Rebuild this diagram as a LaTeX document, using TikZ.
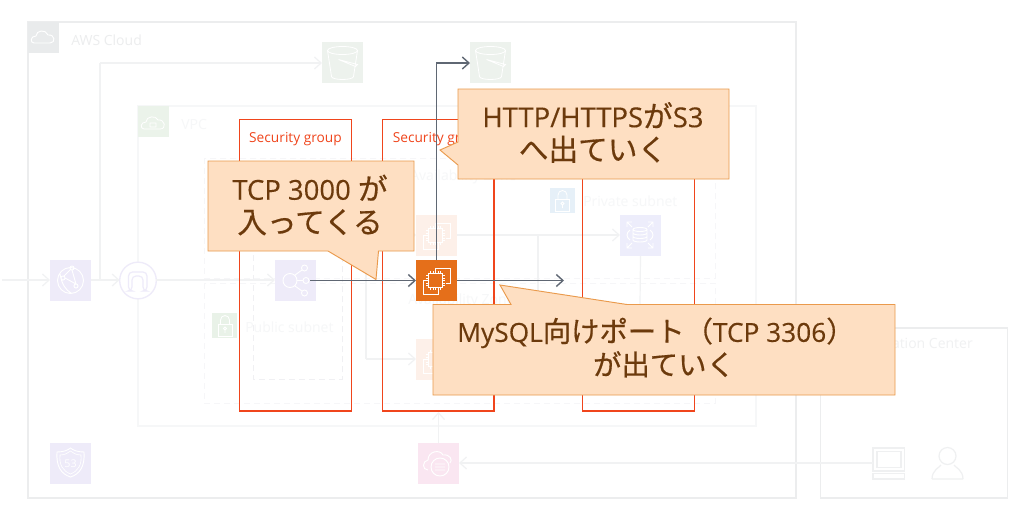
\documentclass[tikz,border=0pt]{standalone}
\usepackage{fontspec}
\setmainfont{Open Sans}
\newfontfamily\cjk[Scale=1.08,FakeBold=0.5]{Noto Sans CJK JP}
\newfontfamily\latinbold[FakeBold=0.25]{Open Sans}
\usetikzlibrary{arrows.meta}
\definecolor{sgred}{HTML}{F0451C}
\definecolor{arrowgray}{HTML}{5F6773}
\definecolor{faintline}{HTML}{F1F2F3}
\definecolor{cloudline}{HTML}{ECEDEE}
\definecolor{cloudcorner}{HTML}{E9EBEC}
\definecolor{vpcline}{HTML}{F6F7F8}
\definecolor{dashline}{HTML}{F6F6F8}
\definecolor{subnetdash}{HTML}{F0F0F3}
\definecolor{fainttext}{HTML}{F0F1F2}
\definecolor{paletext}{HTML}{F6F7F8}
\definecolor{calloutfill}{HTML}{FEDFC2}
\definecolor{calloutline}{HTML}{EA9A4C}
\definecolor{callouttext}{HTML}{6C3A0C}
\definecolor{greenbox}{HTML}{EDF2ED}
\definecolor{vpcgreen}{HTML}{EBF3EA}
\definecolor{pubgreen}{HTML}{E9F2E8}
\definecolor{privblue}{HTML}{E6F0F8}
\definecolor{purplebox}{HTML}{EEEBF9}
\definecolor{orangefaint}{HTML}{FDF0E9}
\definecolor{pinkbox}{HTML}{FAE6F1}
\definecolor{ec2orange}{HTML}{E56F1A}
\definecolor{dbbox}{HTML}{EDEDFB}
\definecolor{onprem}{HTML}{EFF0F1}
\tikzset{
 x=0.75pt,y=-0.75pt,
 iconbox/.style={draw=none,minimum size=30.75pt,inner sep=0pt,outer sep=0pt},
 tinybox/.style={draw=none,minimum size=19pt,inner sep=0pt,outer sep=0pt},
 framebox/.style={inner sep=0pt,outer sep=0pt,anchor=north west},
 sgbox/.style={framebox,draw=sgred,line width=1pt},
 sgtext/.style={text=sgred,font=\fontsize{10.3}{12}\selectfont,inner sep=0pt},
 groupdash/.style={draw=dashline,line width=0.75pt,dash pattern=on 4.5pt off 3pt},
 subnetdashed/.style={draw=subnetdash,line width=0.75pt,dash pattern=on 4.5pt off 3pt},
 fainttxt/.style={text=fainttext,font=\fontsize{10.5}{12}\selectfont,inner sep=0pt,anchor=west},
 faintconn/.style={draw=faintline,line width=0.9pt,-{Straight Barb[length=5pt,width=9pt]}},
 faintseg/.style={draw=faintline,line width=0.9pt},
 hotconn/.style={draw=arrowgray,line width=1.05pt,-{Straight Barb[length=5pt,width=9pt]}},
 calloutshape/.style={fill=calloutfill,draw=calloutline,line width=0.7pt,line join=miter},
 callouttxt/.style={text=callouttext,font=\fontsize{20.6}{25}\selectfont\latinbold,align=center,inner sep=0pt},
 glyph/.style={draw=white,line width=0.6pt,fill=none},
 bucketglyph/.pic={
  \draw[glyph] (0,-12) ellipse[x radius=15,y radius=4];
  \draw[glyph] (-15,-12) -- (-11,14) arc[start angle=180,end angle=0,x radius=11,y radius=3] -- (15,-12);
  \draw[glyph] (-4,-3) -- (15,2) -- (13,4) -- (-4,-3);
 },
 chipglyph/.pic={
  \draw[glyph,line width=0.75pt] (-1.5,-9.5) -- (-1.5,-12.5) -- (13.5,-12.5) -- (13.5,2.5) -- (9.5,2.5);
  \draw[glyph,line width=0.75pt] (-9.5,-0.5) -- (-13.5,-0.5) -- (-13.5,13.5) -- (1.5,13.5) -- (1.5,9.5);
  \draw[glyph,line width=0.9pt,fill=none] (-8,-7) rectangle (6,7);
  \foreach \t in {-5,-2.5,0,2.5,5}{
   \draw[glyph,line width=0.45pt] (\t-1,-9.5) -- (\t-1,-7) (\t-1,7) -- (\t-1,9.5) (-10.5,\t) -- (-8,\t) (6,\t) -- (8.5,\t);
  }
 },
 lockglyph/.pic={
  \draw[glyph] (-7,-2) rectangle (7,10);
  \draw[glyph] (-4.5,-2) -- (-4.5,-6) arc[start angle=180,end angle=360,radius=4.5] -- (4.5,-2);
  \draw[glyph] (0,2.5) circle[radius=1.5] (0,4) -- (0,7);
 },
}
\begin{document}
\begin{tikzpicture}
\useasboundingbox[fill=white] (0,0) rectangle (1021,512);

% groups
\node[framebox,draw=cloudline,line width=1.5pt,minimum width=576pt,minimum height=357pt] (cloud) at (28,22) {};
\fill[cloudcorner] (28,22) rectangle (59,53);
\draw[white,line width=0.7pt] (34,43) .. controls (30,43) and (30,36) .. (36,36) .. controls (36,30) and (46,29) .. (48,35) .. controls (55,34) and (56,43) .. (50,43) -- cycle;
\node[fainttxt,text=cloudline] (cloudtitle) at (71,40) {AWS Cloud};

\node[framebox,draw=vpcline,line width=0.9pt,minimum width=463.5pt,minimum height=240pt] (vpc) at (138,106) {};
\node[iconbox,minimum size=23.5pt,fill=vpcgreen,anchor=north west] (vpcicon) at (138,106) {};
\draw[white,line width=0.6pt] (144,129) .. controls (140,129) and (140,122) .. (146,122) .. controls (146,116) and (156,115) .. (158,120) .. controls (165,119) and (167,129) .. (160,129) -- cycle (150,123) rectangle (156,127);
\node[fainttxt,text=vpcline] (vpctitle) at (181,124) {VPC};

\node[framebox,draw=cloudline,line width=0.9pt,minimum width=140pt,minimum height=127.5pt] (center) at (820.5,328) {};
\node[fainttxt,anchor=east,text=fainttext] (centertitle) at (973,345) {Operation Center};

% availability zones and subnets
\draw[groupdash] (204,158) rectangle (715,278);
\draw[groupdash] (204,283) rectangle (715,403);
\draw[subnetdashed] (253,205) rectangle (342,379);
\node[fainttxt,text=paletext] (az1) at (410,177) {Availability Zone};
\node[fainttxt,text=paletext] (az2) at (408,301) {Availability Zone};
\node[tinybox,fill=pubgreen,anchor=north west] (pubicon) at (212,313) {};
\pic at (225,326) {lockglyph};
\node[fainttxt,text=paletext] (pubtitle) at (245,327) {Public subnet};
\node[tinybox,fill=privblue,anchor=north west] (privicon) at (550,188) {};
\pic at (562.5,201) {lockglyph};
\node[fainttxt,text=paletext] (privtitle) at (583,201) {Private subnet};

% icons
\node[iconbox,fill=greenbox,anchor=north west] (s3a) at (322,42) {};
\pic at (342.5,62.5) {bucketglyph};
\node[iconbox,fill=greenbox,anchor=north west] (s3b) at (470,42) {};
\pic at (490.5,62.5) {bucketglyph};
\node[iconbox,fill=purplebox,anchor=north west] (edge) at (50,260) {};
\draw[white,line width=0.7pt] (70.5,280.5) circle[radius=13] (63,278) circle[radius=2] (72,268) circle[radius=2] (76,286) circle[radius=2] (65,278) -- (76,284) (64,276) -- (71,269) (72,270) -- (76,284) (60,274) .. controls (62,285) and (66,290) .. (71,293);
\node[iconbox,fill=purplebox,anchor=north west] (dns) at (50,443) {};
\draw[white,line width=0.7pt] (57,452) .. controls (64,452) and (68,450) .. (70.5,448) .. controls (73,450) and (77,452) .. (84,452) .. controls (85,466) and (80,474) .. (70.5,477) .. controls (61,474) and (56,466) .. (57,452) -- cycle;
\draw[white,line width=0.5pt] (60,455) .. controls (65,455) and (68,453) .. (70.5,451) .. controls (73,453) and (76,455) .. (81,455) .. controls (82,465) and (78,471) .. (70.5,474) .. controls (63,471) and (59,465) .. (60,455) -- cycle;
\node[inner sep=0pt,text=white,font=\fontsize{8}{9}\selectfont] (dnstxt) at (70.5,464) {53};
\node[circle,draw=purplebox,line width=1pt,fill=white,minimum size=27.5pt,inner sep=0pt,outer sep=0pt] (igw) at (138,280.5) {};
\draw[purplebox,line width=0.9pt,rounded corners=3pt] (128.5,291) -- (128.5,272) -- (147,272) -- (147,291) -- (143,291) -- (143,276) -- (132,276) -- (132,291) -- cycle;
\node[iconbox,fill=purplebox,anchor=north west] (alb) at (275,260) {};
\draw[white,line width=0.7pt] (290,280.5) circle[radius=7] (297,280.5) -- (303,280.5) (306,280.5) circle[radius=3] (295,275) -- (302,270) (304.5,268) circle[radius=3] (295,286) -- (302,291) (304.5,293) circle[radius=3];
\node[iconbox,fill=orangefaint,anchor=north west] (ec2a) at (416,215) {};
\pic at (436.5,235.5) {chipglyph};
\node[iconbox,fill=orangefaint,anchor=north west] (ec2c) at (416,339) {};
\pic at (436.5,359.5) {chipglyph};
\node[iconbox,fill=dbbox,anchor=north west] (rds) at (620,215) {};
\draw[white,line width=0.7pt] (640,229.5) ellipse[x radius=7,y radius=2] (633,229.5) -- (633,240) arc[start angle=180,end angle=0,x radius=7,y radius=2] -- (647,229.5) (633,233) arc[start angle=180,end angle=0,x radius=7,y radius=2] (633,236.5) arc[start angle=180,end angle=0,x radius=7,y radius=2];
\draw[white,line width=0.7pt] (632,227) -- (627,222) (627,227) -- (627,222) -- (632,222) (648,227) -- (653,222) (648,222) -- (653,222) -- (653,227) (632,243) -- (627,248) (627,243) -- (627,248) -- (632,248) (648,243) -- (653,248) (648,248) -- (653,248) -- (653,243) (630,230) .. controls (626,233) and (626,237) .. (630,240) (650,230) .. controls (654,233) and (654,237) .. (650,240);
\node[iconbox,fill=pinkbox,anchor=north west] (mgmt) at (418,443) {};
\draw[white,line width=0.7pt] (428,470) .. controls (422,470) and (422,461) .. (428,460) .. controls (428,451) and (440,449) .. (443,455) .. controls (450,454) and (453,460) .. (450,463);
\draw[white,line width=0.7pt] (440,467) circle[radius=9] (435,464) -- (445,464) (435,467) -- (445,467) (435,470) -- (445,470);

% on-premises icons
\node[inner sep=0pt,outer sep=0pt,minimum width=24pt,minimum height=24pt,anchor=north west] (pc) at (873,447) {};
\draw[onprem,line width=0.9pt] (873,448) rectangle (904.5,471) (877,451.5) rectangle (901,467.5) (873,473.5) rectangle (904.5,479);
\node[inner sep=0pt,outer sep=0pt,minimum width=25pt,minimum height=25pt,anchor=north west] (user) at (931,447) {};
\draw[onprem,line width=0.9pt] (947.5,456) circle[radius=8.5] (932,479) .. controls (932,470) and (940,467) .. (941,465) (963,479) .. controls (963,470) and (955,467) .. (954,465) (932,479) -- (963,479);

% faint connectors
\coordinate (inleft) at (2,280);
\coordinate (topbend) at (100,63);
\coordinate (topstart) at (100,280);
\coordinate (b1) at (366,235);
\coordinate (b2) at (366,359);
\coordinate (b3) at (366,280);
\coordinate (j1) at (538,235);
\coordinate (j2) at (538,305);
\coordinate (rd) at (640,305);
\draw[faintconn] (inleft) -- (edge.west |- inleft);
\draw[faintconn] (edge.east |- inleft) -- (igw.west |- inleft);
\draw[faintconn] (igw.east |- inleft) -- (alb.west |- inleft);
\draw[faintseg] (topstart) -- (topbend);
\draw[faintconn] (topbend) -- (s3a.west |- topbend);
\draw[faintseg] (b3) -- (b1);
\draw[faintconn] (b1) -- (ec2a.west |- b1);
\draw[faintseg] (b3) -- (b2);
\draw[faintconn] (b2) -- (ec2c.west |- b2);
\draw[faintconn] (ec2a.east |- b1) -- (rds.west |- b1);
\draw[faintseg] (j1) -- (j2);
\draw[faintseg] (rds.south) -- (rd);
\draw[faintconn] (mgmt.north) -- ++(0,-31);
\draw[faintconn] (pc.west |- 0,463) -- (mgmt.east |- 0,463);

% security groups
\node[sgbox,minimum width=84pt,minimum height=218.5pt] (sg1) at (239.5,119.5) {};
\node[sgbox,minimum width=83.6pt,minimum height=218.5pt] (sg2) at (382.5,119.5) {};
\node[sgbox,minimum width=84pt,minimum height=218.5pt] (sg3) at (582.5,119.5) {};
\node[sgtext] (sg1t) at (295.5,139) {Security group};
\node[sgtext,anchor=west] (sg2t) at (392.5,139) {Security group};

% active EC2 and hot connectors
\node[iconbox,fill=ec2orange,anchor=north west] (ec2b) at (416,260) {};
\pic at (436.5,280.5) {chipglyph};
\coordinate (albhot) at (310,280.5);
\coordinate (s3bend) at (436.5,63);
\coordinate (dbhot) at (564,280.5);
\draw[hotconn] (ec2b.north) -- (s3bend) -- (s3b.west |- s3bend);
\draw[hotconn] (ec2b.east) -- (dbhot);

% callouts
\draw[calloutshape] (208,161) -- (414,161) -- (414,251) -- (378.5,251) -- (376,279.5) -- (328,251) -- (208,251) -- cycle;
\draw[hotconn] (albhot) -- (ec2b.west);
\node[callouttxt] (c1) at (310,205) {TCP 3000 {\cjk が}\\{\cjk 入ってくる}};
\draw[calloutshape] (458,89) -- (729,89) -- (729,179) -- (458,179) -- (458,165) -- (440,150) -- (458,142) -- cycle;
\node[callouttxt] (c2) at (593,132.5) {HTTP/HTTPS{\cjk が}S3\\{\cjk へ出ていく}};
\draw[calloutshape] (433,304.5) -- (511,304.5) -- (500,285) -- (627,304.5) -- (895,304.5) -- (895,395) -- (433,395) -- cycle;
\node[callouttxt,font=\fontsize{19.7}{25}\selectfont\latinbold] (c3) at (656,347.5) {MySQL{\cjk 向けポート（}TCP 3306{\cjk ）}\\\hspace*{12pt}{\cjk が出ていく}};
\end{tikzpicture}
\end{document}
